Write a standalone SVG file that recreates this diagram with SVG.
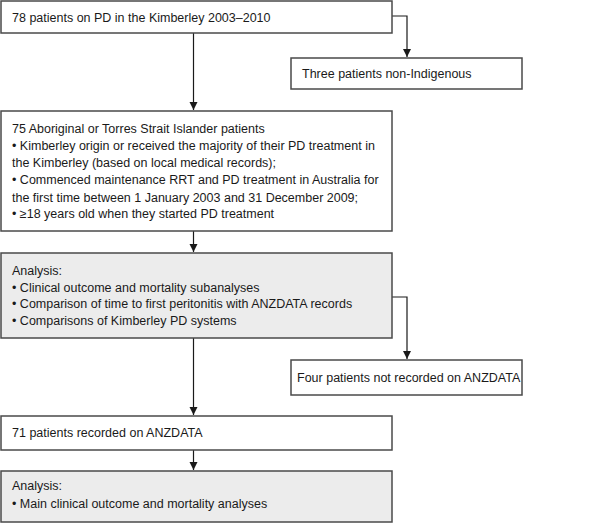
<svg xmlns="http://www.w3.org/2000/svg" width="592" height="523" viewBox="0 0 592 523">
<defs>
<style>
.box{fill:#ffffff;stroke:#4a4a4a;stroke-width:1.5}
.grey{fill:#ececec}
.t{font-family:"Liberation Sans",Arial,sans-serif;font-size:12.5px;fill:#1a1a1a}
.c{fill:none;stroke:#1a1a1a;stroke-width:1.2}
</style>
<marker id="ah" markerWidth="10" markerHeight="10" refX="8" refY="5" orient="auto" markerUnits="userSpaceOnUse">
<path d="M0,1 L8,5 L0,9 Z" fill="#1a1a1a"/>
</marker>
</defs>
<rect width="592" height="523" fill="#ffffff"/>
<g id="connectors">
<path class="c" d="M193.5,33 V110" marker-end="url(#ah)"/>
<path class="c" d="M392,16 H407 V57" marker-end="url(#ah)"/>
<path class="c" d="M193.5,231 V252" marker-end="url(#ah)"/>
<path class="c" d="M392,297 H407 V359" marker-end="url(#ah)"/>
<path class="c" d="M193.5,338 V415" marker-end="url(#ah)"/>
<path class="c" d="M193.5,450 V470" marker-end="url(#ah)"/>
</g>
<g id="n1">
<rect class="box" x="1" y="1" width="391" height="32"/>
<text class="t" x="12" y="22">78 patients on PD in the Kimberley 2003–2010</text>
</g>
<g id="n2">
<rect class="box" x="291" y="58" width="231" height="31"/>
<text class="t" x="302" y="78">Three patients non-Indigenous</text>
</g>
<g id="n3">
<rect class="box" x="1" y="111" width="391" height="120"/>
<text class="t" x="12" y="133">75 Aboriginal or Torres Strait Islander patients</text>
<text class="t" x="12" y="150">• Kimberley origin or received the majority of their PD treatment in</text>
<text class="t" x="12" y="167">the Kimberley (based on local medical records);</text>
<text class="t" x="12" y="184">• Commenced maintenance RRT and PD treatment in Australia for</text>
<text class="t" x="12" y="202">the first time between 1 January 2003 and 31 December 2009;</text>
<text class="t" x="12" y="218">• ≥18 years old when they started PD treatment</text>
</g>
<g id="n4">
<rect class="box grey" x="1" y="253" width="391" height="85"/>
<text class="t" x="12" y="275">Analysis:</text>
<text class="t" x="12" y="292">• Clinical outcome and mortality subanalyses</text>
<text class="t" x="12" y="308">• Comparison of time to first peritonitis with ANZDATA records</text>
<text class="t" x="12" y="325">• Comparisons of Kimberley PD systems</text>
</g>
<g id="n5">
<rect class="box" x="291" y="360" width="231" height="35"/>
<text class="t" x="297" y="382">Four patients not recorded on ANZDATA</text>
</g>
<g id="n6">
<rect class="box" x="1" y="416" width="391" height="34"/>
<text class="t" x="12" y="437">71 patients recorded on ANZDATA</text>
</g>
<g id="n7">
<rect class="box grey" x="1" y="471" width="391" height="51"/>
<text class="t" x="12" y="490">Analysis:</text>
<text class="t" x="12" y="508">• Main clinical outcome and mortality analyses</text>
</g>
</svg>
